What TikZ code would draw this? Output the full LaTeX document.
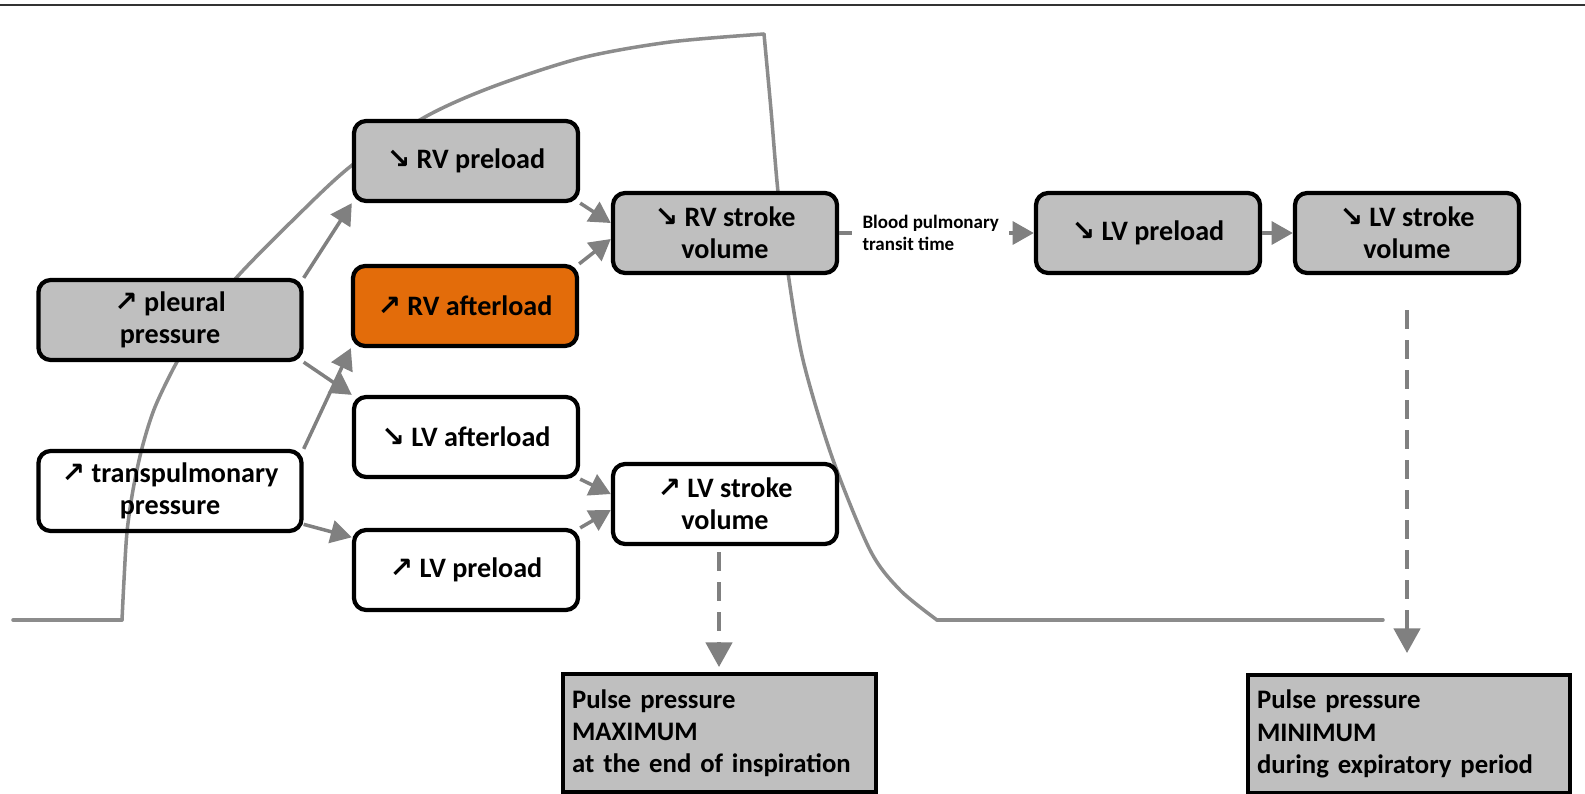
\documentclass[tikz,border=0pt]{standalone}
\usepackage{fontspec}
\setmainfont{Carlito}
\newfontfamily\arrowfont{DejaVu Sans}
\usetikzlibrary{arrows.meta}
\definecolor{boxgrey}{HTML}{BFBFBF}
\definecolor{afterorange}{HTML}{E36C0A}
\definecolor{arrowgrey}{HTML}{808080}
\definecolor{curvegrey}{HTML}{8C8C8C}
\newcommand{\arrup}{{\arrowfont\bfseries\char"2197}}
\newcommand{\arrdown}{{\arrowfont\bfseries\char"2198}}

\tikzset{
  varbox/.style={draw, line width=1.2pt, rounded corners=3.5pt, align=center,
    minimum width=2.24cm, minimum height=0.8cm, inner sep=1pt,
    font=\fontsize{8}{9.2}\selectfont\bfseries},
  widebox/.style={varbox, minimum width=2.63cm},
  greybox/.style={fill=boxgrey},
  outbox/.style={draw, line width=1.2pt, fill=boxgrey, align=left, anchor=north west,
    inner xsep=0.09cm, inner ysep=2pt, minimum height=1.18cm,
    font=\fontsize{7.6}{9.2}\selectfont\bfseries},
  flowarrow/.style={draw=arrowgrey, line width=1pt, -{Triangle[length=6pt,width=6.5pt]}},
  dasharrow/.style={draw=arrowgrey, line width=1pt, dash pattern=on 0.19cm off 0.11cm,
    -{Triangle[length=7pt,width=7.5pt]}},
  presscurve/.style={draw=curvegrey, line width=1pt, line cap=round, line join=round},
}

\begin{document}
\begin{tikzpicture}[x=0.01cm, y=-0.01cm]
  \useasboundingbox (0,0) rectangle (1585,793);

  %top rule
  \draw[line width=0.8pt, black!80] (0,5) -- (1585,5);

  %pressure curve
  \draw[presscurve] (13,620) -- (122,620);
  \draw[presscurve] plot[smooth] coordinates {(122,620) (124,580) (127,532) (133,490)
    (142,448) (155,407) (178,360) (205,318) (237,277) (291,222) (351,166)
    (425,117) (492,87) (581,58) (670,42) (764,34)};
  \draw[presscurve] plot[smooth] coordinates {(764,34) (771,110) (778,192) (788,273)
    (803,360) (832,457) (870,550) (900,590) (937,620)};
  \draw[presscurve] (937,620) -- (1383,620);

  %boxes
  \node[widebox, greybox] (pleural) at (170,320) {\arrup{} pleural\\pressure};
  \node[widebox] (transp) at (170,491) {\arrup{} transpulmonary\\pressure};
  \node[varbox, greybox] (rvpre) at (466,161) {\arrdown{} RV preload};
  \node[varbox, fill=afterorange] (rvafter) at (465,306) {\arrup{} RV afterload};
  \node[varbox] (lvafter) at (466,437) {\arrdown{} LV afterload};
  \node[varbox] (lvpre) at (466,570) {\arrup{} LV preload};
  \node[varbox, greybox] (rvstroke) at (725,233) {\arrdown{} RV stroke\\volume};
  \node[varbox] (lvstroke) at (725,504) {\arrup{} LV stroke\\volume};
  \node[varbox, greybox] (lvpreR) at (1148,233) {\arrdown{} LV preload};
  \node[varbox, greybox] (lvstrokeR) at (1407,233) {\arrdown{} LV stroke\\volume};

  \node[outbox, text width=2.95cm] (ppmax) at (561,672)
    {Pulse pressure\\MAXIMUM\\at the end of inspiration};
  \node[outbox, text width=3.04cm] (ppmin) at (1246,673)
    {Pulse pressure\\MINIMUM\\during expiratory period};

  %arrows
  \draw[flowarrow] (pleural.north east) -- (rvpre.south west);
  \draw[flowarrow] (pleural.south east) -- (lvafter.north west);
  \draw[flowarrow] (transp.north east) -- (rvafter.south west);
  \draw[flowarrow] (transp.-14) -- (lvpre.164);
  \draw[flowarrow] (rvpre.south east) -- (rvstroke.175);
  \draw[flowarrow] (rvafter.north east) -- (rvstroke.183);
  \draw[flowarrow] (lvafter.south east) -- (lvstroke.175);
  \draw[flowarrow] (lvpre.north east) -- (lvstroke.183);
  \draw[flowarrow] (rvstroke.east) -- node[pos=0.47, fill=white, align=left,
      inner xsep=3pt, inner ysep=1pt, font=\fontsize{5.4}{6.4}\selectfont\bfseries] (transit)
      {Blood pulmonary\\transit time} (lvpreR.west);
  \draw[flowarrow] (lvpreR.east) -- (lvstrokeR.west);

  %pulse pressure
  \draw[dasharrow, shorten <=0.06cm, shorten >=0.05cm] ([xshift=-0.06cm]lvstroke.south)
    -- ([xshift=-0.06cm]lvstroke.south |- ppmax.north);
  \draw[dasharrow, shorten <=0.35cm, shorten >=0.2cm] (lvstrokeR.south)
    -- (lvstrokeR.south |- ppmin.north);
\end{tikzpicture}
\end{document}
